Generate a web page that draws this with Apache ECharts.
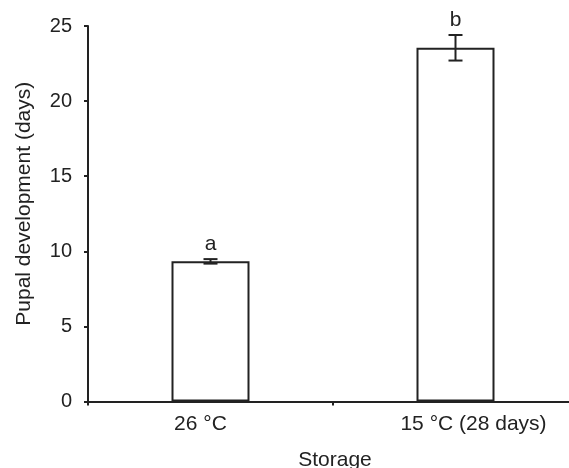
<!DOCTYPE html>
<html><head><meta charset="utf-8">
<script src="https://cdn.jsdelivr.net/npm/echarts@6/dist/echarts.min.js"></script>
<style>html,body{margin:0;padding:0;background:#fff}#c{width:569px;height:468px}</style>
</head><body><div id="c"></div>
<script>
const categories = ['26 °C', '15 °C (28 days)'];
const means = [9.33, 23.55];
const errors = [0.15, 0.85];
const letters = ['a', 'b'];
const yTicks = [0, 5, 10, 15, 20, 25];

const chart = echarts.init(document.getElementById('c'));
const FONT = 'Liberation Sans, Arial, sans-serif';
const INK = '#222';
chart.setOption({
  animation: false,
  grid: { left: 88, top: 26, width: 490, bottom: 66.5, containLabel: false, outerBoundsMode: 'none' },
  xAxis: {
    type: 'category', data: categories, z: 5,
    axisLine: { lineStyle: { color: INK, width: 2 } },
    axisTick: { show: true, length: 4, lineStyle: { color: INK, width: 2 } },
    axisLabel: {
      color: '#222', fontFamily: FONT, fontSize: 21, margin: 12,
      formatter: function (v, i) { return i === 0 ? '{a|' + v + '}' : '{b|' + v + '}'; },
      rich: {
        a: { fontFamily: FONT, fontSize: 21, color: '#222', padding: [0, 20, 0, 0] },
        b: { fontFamily: FONT, fontSize: 21, color: '#222', padding: [0, 0, 0, 36] }
      }
    },
    name: 'Storage', nameLocation: 'middle', nameGap: 48,
    nameTextStyle: { color: '#222', fontFamily: FONT, fontSize: 21, padding: [0, 0, 0, 4] }
  },
  yAxis: {
    type: 'value', min: yTicks[0], max: yTicks[yTicks.length - 1], interval: 5,
    splitLine: { show: false },
    axisLine: { show: true, lineStyle: { color: INK, width: 2 } },
    axisTick: { show: true, length: 4, lineStyle: { color: INK, width: 2 } },
    axisLabel: { color: '#222', fontFamily: FONT, fontSize: 20, margin: 16 },
    name: 'Pupal development (days)', nameLocation: 'middle', nameGap: 53,
    nameTextStyle: { color: '#222', fontFamily: FONT, fontSize: 21, padding: [0, 0, 0, 20] }
  },
  series: [
    {
      type: 'bar', data: means, barWidth: 78,
      itemStyle: { color: '#fff', borderColor: INK, borderWidth: 2 }
    },
    {
      type: 'custom',
      data: means.map((m, i) => [i, m, errors[i]]),
      renderItem: function (params, api) {
        const i = api.value(0), m = api.value(1), e = api.value(2);
        const hi = api.coord([i, m + e]);
        const lo = api.coord([i, m - e]);
        const cap = 7;
        return {
          type: 'group',
          children: [
            { type: 'line', shape: { x1: hi[0], y1: hi[1], x2: lo[0], y2: lo[1] }, style: { stroke: INK, lineWidth: 2 } },
            { type: 'line', shape: { x1: hi[0] - cap, y1: hi[1], x2: hi[0] + cap, y2: hi[1] }, style: { stroke: INK, lineWidth: 2 } },
            { type: 'line', shape: { x1: lo[0] - cap, y1: lo[1], x2: lo[0] + cap, y2: lo[1] }, style: { stroke: INK, lineWidth: 2 } },
            { type: 'text', x: hi[0], y: hi[1] - 4, style: { text: letters[i], fill: '#222', font: '21px ' + FONT, textAlign: 'center', textVerticalAlign: 'bottom' } }
          ]
        };
      },
      z: 10
    }
  ]
});
</script></body></html>
